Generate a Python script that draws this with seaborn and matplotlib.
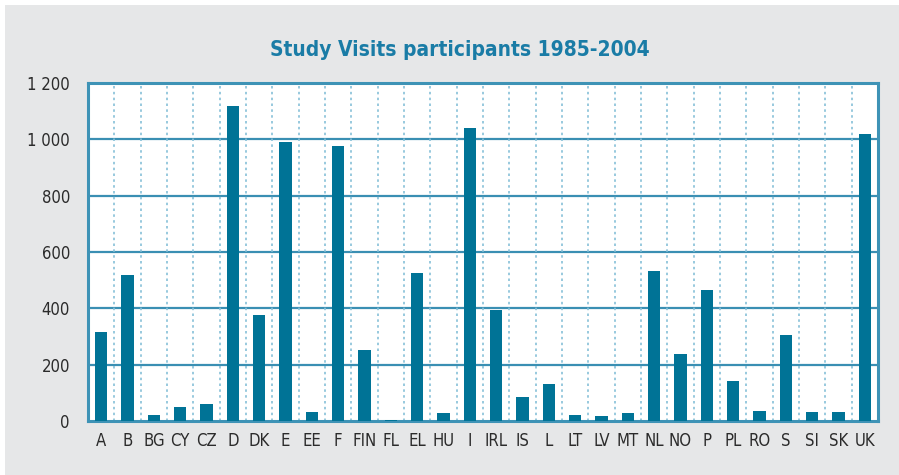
import seaborn as sns
import matplotlib.pyplot as plt
import pandas as pd
from matplotlib.patches import Rectangle

countries = ['A', 'B', 'BG', 'CY', 'CZ', 'D', 'DK', 'E', 'EE', 'F', 'FIN', 'FL', 'EL', 'HU',
             'I', 'IRL', 'IS', 'L', 'LT', 'LV', 'MT', 'NL', 'NO', 'P', 'PL', 'RO', 'S', 'SI', 'SK', 'UK']
participants = [315, 518, 21, 50, 60, 1118, 376, 990, 32, 976, 252, 5, 525, 28,
                1040, 395, 85, 131, 21, 18, 28, 532, 238, 465, 142, 35, 305, 32, 32, 1020]
y_ticks = [0, 200, 400, 600, 800, 1000, 1200]

df = pd.DataFrame({'country': countries, 'n': participants})

sns.set_style('white')
plt.rcParams['font.family'] = ['DejaVu Sans']
plt.rcParams['font.stretch'] = 'condensed'

fig = plt.figure(figsize=(8.99, 4.75), dpi=100, facecolor='white')
fig.patches.append(Rectangle((5 / 899, 0), 1, 1 - 5 / 475, transform=fig.transFigure,
                             facecolor='#e6e7e8', edgecolor='none', zorder=-10))
ax = fig.add_axes([88 / 899, 1 - 421 / 475, 790 / 899, 338 / 475])
ax.set_facecolor('white')

sns.barplot(data=df, x='country', y='n', color='#007396', saturation=1, width=0.46,
            linewidth=0, ax=ax, zorder=3)

ax.set_ylim(0, 1200)
ax.set_xlim(-0.5, len(countries) - 0.5)
ax.set_yticks(y_ticks)
ax.set_yticklabels([f'{v:,}'.replace(',', ' ') for v in y_ticks])

# solid horizontal grid, dotted separators between countries
for v in y_ticks[1:-1]:
    ax.axhline(v, color='#3a8fb3', linewidth=1.6, zorder=1)
for i in range(len(countries) - 1):
    ax.axvline(i + 0.5, color='#86c0d8', linewidth=1.2, linestyle=(0, (1.5, 2)), zorder=1)

for s in ax.spines.values():
    s.set_color('#3e93b6')
    s.set_linewidth(2.2)
    s.set_visible(True)

ax.tick_params(axis='both', length=0, labelsize=12, colors='#2b2b2b')
ax.tick_params(axis='x', pad=8)
ax.tick_params(axis='y', pad=13)
ax.set_xlabel('')
ax.set_ylabel('')

fig.text(460 / 899, 1 - 50 / 475, 'Study Visits participants 1985-2004', ha='center', va='center',
         fontsize=15, fontweight='bold', color='#1a7ca6')

plt.savefig('out.png', dpi=100, facecolor=fig.get_facecolor())
